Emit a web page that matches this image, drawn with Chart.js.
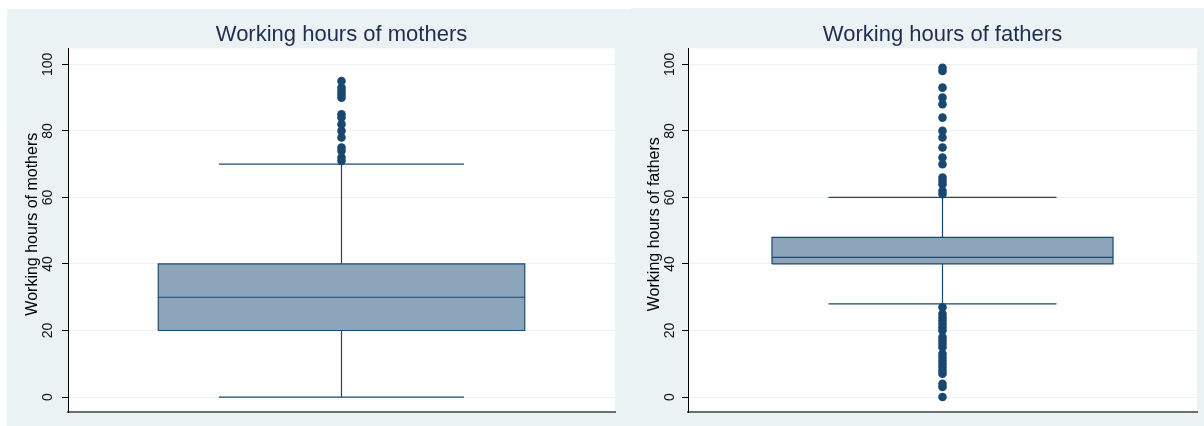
<!DOCTYPE html>
<html>
<head>
<meta charset="utf-8">
<script src="https://cdn.jsdelivr.net/npm/chart.js@4.4.1/dist/chart.umd.min.js"></script>
<style>
  html, body { margin: 0; padding: 0; background: #ffffff; width: 1204px; height: 426px; overflow: hidden; }
  .panel { position: absolute; background: #eaf2f3; }
  #panelMothers { left: 7px; top: 9px; width: 624px; height: 417px; }
  #panelFathers { left: 631px; top: 8px; width: 573px; height: 418px; }
  canvas { display: block; }
</style>
</head>
<body>
<div class="panel" id="panelMothers"><canvas id="chartMothers" width="624" height="417"></canvas></div>
<div class="panel" id="panelFathers"><canvas id="chartFathers" width="573" height="418"></canvas></div>
<script>
// Axis ticks shared by both panels
const yTicks = [0, 20, 40, 60, 80, 100];

// Box summaries: [lower adjacent, Q1, median, Q3, upper adjacent]
const motherBox = [0, 20, 30, 40, 70];
const fatherBox = [28, 40, 42, 48, 60];

// Observations outside the adjacent values
const motherOutliers = [95, 93, 92, 91, 90, 85, 84, 82, 80, 78, 75, 74, 72, 71];
const fatherOutliers = [99, 98, 93, 90, 88, 84, 80, 78, 75, 72, 70, 66, 65, 64, 62, 61,
                        27, 25, 24, 23, 22, 21, 20, 18, 17, 16, 15, 13, 12, 11, 10, 9, 8, 7, 4, 3, 0];

const chartTitles = ['Working hours of mothers', 'Working hours of fathers'];
const axisTitles = ['Working hours of mothers', 'Working hours of fathers'];

// Styling
const NAVY = '#1a476f';
const BOX_FILL = '#8da5ba';
const FONT = '"Liberation Sans", Arial, Helvetica, sans-serif';
const Y_MIN = -4.5, Y_MAX = 104.8;
// horizontal placement of box parts as fractions of the plot width
const BOX_L = 0.165, BOX_R = 0.835, CAP_L = 0.276, CAP_R = 0.724, MID = 0.5;

const plotBackground = {
  id: 'plotBackground',
  beforeDraw(chart) {
    const { ctx, chartArea: a } = chart;
    ctx.save();
    ctx.fillStyle = '#ffffff';
    ctx.fillRect(a.left, a.top, a.right - a.left, a.bottom - a.top);
    ctx.restore();
  }
};

// Rotated y tick labels and y axis title
const rotatedYText = {
  id: 'rotatedYText',
  afterDraw(chart, args, opts) {
    const { ctx, chartArea: a } = chart;
    const ys = chart.scales.y;
    ctx.save();
    ctx.fillStyle = '#111111';
    ctx.textAlign = 'center';
    ctx.textBaseline = 'middle';
    ctx.font = '14px ' + FONT;
    yTicks.forEach(v => {
      const py = ys.getPixelForValue(v);
      ctx.save();
      ctx.translate(opts.tickX, py);
      ctx.rotate(-Math.PI / 2);
      ctx.fillText(String(v), 0, 0);
      ctx.restore();
    });
    ctx.fillStyle = '#000000';
    ctx.font = '16px ' + FONT;
    ctx.translate(opts.titleX, (a.top + a.bottom) / 2 - 6);
    ctx.rotate(-Math.PI / 2);
    ctx.fillText(opts.text, 0, 0);
    ctx.restore();
  }
};

function segment(points, order) {
  return {
    data: points,
    borderColor: NAVY,
    borderWidth: 1.2,
    pointRadius: 0,
    fill: false,
    tension: 0,
    order: order
  };
}

function drawBoxPlot(canvasId, title, yTitle, box, outliers, geom) {
  const [lo, q1, med, q3, hi] = box;
  new Chart(document.getElementById(canvasId), {
    type: 'line',
    data: {
      datasets: [
        {
          data: outliers.map(v => ({ x: MID, y: v })),
          showLine: false,
          pointRadius: 4.3,
          pointBackgroundColor: NAVY,
          pointBorderColor: NAVY,
          pointBorderWidth: 0,
          order: 0
        },
        segment([{ x: MID, y: q3 }, { x: MID, y: hi }], 1),
        segment([{ x: MID, y: q1 }, { x: MID, y: lo }], 1),
        segment([{ x: CAP_L, y: hi }, { x: CAP_R, y: hi }], 1),
        segment([{ x: CAP_L, y: lo }, { x: CAP_R, y: lo }], 1),
        segment([{ x: BOX_L, y: med }, { x: BOX_R, y: med }], 2),
        segment([{ x: BOX_L, y: q1 }, { x: BOX_R, y: q1 }, { x: BOX_R, y: q3 },
                 { x: BOX_L, y: q3 }, { x: BOX_L, y: q1 }], 2),
        {
          data: [{ x: BOX_L, y: q3 }, { x: BOX_R, y: q3 }],
          fill: { value: q1 },
          backgroundColor: BOX_FILL,
          borderWidth: 0,
          pointRadius: 0,
          order: 5
        }
      ]
    },
    options: {
      responsive: false,
      animation: false,
      events: [],
      layout: { padding: { left: 0, right: geom.rightPad, top: 0, bottom: 0 } },
      plugins: {
        legend: { display: false },
        tooltip: { enabled: false },
        title: {
          display: true,
          text: title,
          fullSize: false,
          color: '#1f2d4f',
          font: { family: FONT, size: 22, weight: 'normal', lineHeight: 1.2 },
          padding: { top: geom.titleTop, bottom: 0 }
        },
        rotatedYText: { tickX: geom.tickX, titleX: geom.titleX, text: yTitle }
      },
      scales: {
        x: {
          type: 'linear',
          min: 0,
          max: 1,
          ticks: { display: false },
          grid: { display: false },
          border: { display: true, color: '#6e6e6e', width: 2 },
          afterFit(scale) { scale.height = 14; }
        },
        y: {
          type: 'linear',
          min: Y_MIN,
          max: Y_MAX,
          afterBuildTicks(scale) { scale.ticks = yTicks.map(v => ({ value: v })); },
          ticks: { display: false },
          grid: { color: '#eaf2f3', lineWidth: 1, drawTicks: true, tickLength: 6, tickColor: '#000000', tickWidth: 1 },
          border: { display: true, color: '#000000', width: 1 },
          afterFit(scale) { scale.width = geom.axisWidth; }
        }
      }
    },
    plugins: [plotBackground, rotatedYText]
  });
}

drawBoxPlot('chartMothers', chartTitles[0], axisTitles[0], motherBox, motherOutliers,
  { axisWidth: 61, rightPad: 16, titleTop: 13, tickX: 41, titleX: 26 });
drawBoxPlot('chartFathers', chartTitles[1], axisTitles[1], fatherBox, fatherOutliers,
  { axisWidth: 57, rightPad: 7, titleTop: 14, tickX: 39, titleX: 24 });
</script>
</body>
</html>
